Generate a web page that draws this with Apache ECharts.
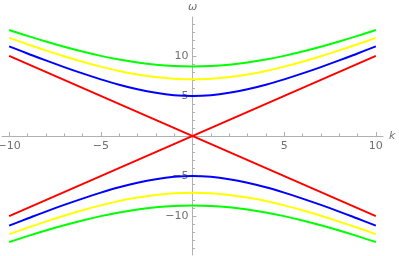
<!DOCTYPE html>
<html>
<head>
<meta charset="utf-8">
<script src="https://cdn.jsdelivr.net/npm/echarts@6/dist/echarts.min.js"></script>
<style>html,body{margin:0;padding:0;background:#fff}#c{width:399px;height:256px}</style>
</head>
<body>
<div id="c"></div>
<script>
var kValues = [-10,-9,-8,-7,-6,-5,-4,-3,-2,-1,0,1,2,3,4,5,6,7,8,9,10];
var redK = [-10, 10];
var redRising = [-10, 10];
var redFalling = [10, -10];
var blueUpper = [11.18,10.30,9.43,8.60,7.81,7.07,6.40,5.83,5.39,5.10,5.00,5.10,5.39,5.83,6.40,7.07,7.81,8.60,9.43,10.30,11.18];
var blueLower = [-11.18,-10.30,-9.43,-8.60,-7.81,-7.07,-6.40,-5.83,-5.39,-5.10,-5.00,-5.10,-5.39,-5.83,-6.40,-7.07,-7.81,-8.60,-9.43,-10.30,-11.18];
var yellowUpper = [12.25,11.45,10.68,9.95,9.27,8.66,8.12,7.68,7.35,7.14,7.07,7.14,7.35,7.68,8.12,8.66,9.27,9.95,10.68,11.45,12.25];
var yellowLower = [-12.25,-11.45,-10.68,-9.95,-9.27,-8.66,-8.12,-7.68,-7.35,-7.14,-7.07,-7.14,-7.35,-7.68,-8.12,-8.66,-9.27,-9.95,-10.68,-11.45,-12.25];
var greenUpper = [13.23,12.49,11.79,11.14,10.54,10.00,9.54,9.17,8.89,8.72,8.66,8.72,8.89,9.17,9.54,10.00,10.54,11.14,11.79,12.49,13.23];
var greenLower = [-13.23,-12.49,-11.79,-11.14,-10.54,-10.00,-9.54,-9.17,-8.89,-8.72,-8.66,-8.72,-8.89,-9.17,-9.54,-10.00,-10.54,-11.14,-11.79,-12.49,-13.23];
var xMajorTicks = [-10,-5,5,10];
var xMinorTicks = [-10,-9,-8,-7,-6,-5,-4,-3,-2,-1,1,2,3,4,5,6,7,8,9,10];
var yMajorTicks = [-10,-5,5,10];
var yMinorTicks = [-14,-13,-12,-11,-10,-9,-8,-7,-6,-5,-4,-3,-2,-1,1,2,3,4,5,6,7,8,9,10,11,12,13,14];

function pairs(xs, ys){ return xs.map(function(x,i){ return [x, ys[i]]; }); }

var W = 399, H = 256;
var G = {left:2, right:16, top:17, bottom:1};
var xOff = -(H - G.top - G.bottom) / 2;   // x axis moved from grid bottom to the middle (value 0)
var yOff = -(W - G.left - G.right) / 2;   // y axis moved from grid left to the middle (value 0)

var axisColor = '#b0b0b0';
var labelColor = '#707070';
function fmt(v){ return String(v).replace('-', '\u2212'); }

var chart = echarts.init(document.getElementById('c'), null, {renderer:'canvas'});
function lineSeries(xs, ys, color, smooth){
  return {type:'line', data:pairs(xs, ys), showSymbol:false, smooth:smooth,
    lineStyle:{color:color, width:2}, itemStyle:{color:color}, silent:true, animation:false, z:3};
}
chart.setOption({
  animation:false,
  grid:{left:G.left, right:G.right, top:G.top, bottom:G.bottom, containLabel:false, outerBoundsMode:'none'},
  xAxis:[{
    type:'value', min:-10.39, max:10.39, position:'bottom', offset:xOff,
    axisLine:{show:true, onZero:false, lineStyle:{color:axisColor, width:1}},
    axisTick:{show:true, inside:true, length:4, customValues:xMajorTicks, lineStyle:{color:axisColor}},
    axisLabel:{show:true, customValues:xMajorTicks, formatter:fmt, color:labelColor, fontSize:11, margin:5, fontFamily:'DejaVu Sans'},
    splitLine:{show:false},
    name:'k', nameLocation:'end', nameGap:6,
    nameTextStyle:{color:labelColor, fontSize:11, fontStyle:'italic', fontFamily:'DejaVu Sans'}
  },{
    type:'value', min:-10.39, max:10.39, position:'bottom', offset:xOff,
    axisLine:{show:false, onZero:false},
    axisTick:{show:true, inside:true, length:2.5, customValues:xMinorTicks, lineStyle:{color:axisColor}},
    axisLabel:{show:false}, splitLine:{show:false}
  }],
  yAxis:[{
    type:'value', min:-14.85, max:14.85, position:'left', offset:yOff,
    axisLine:{show:true, onZero:false, lineStyle:{color:axisColor, width:1}},
    axisTick:{show:true, inside:true, length:4, customValues:yMajorTicks, lineStyle:{color:axisColor}},
    axisLabel:{show:true, customValues:yMajorTicks, formatter:fmt, color:labelColor, fontSize:11, margin:4, fontFamily:'DejaVu Sans'},
    splitLine:{show:false},
    name:'\u03C9', nameLocation:'end', nameGap:4,
    nameTextStyle:{color:labelColor, fontSize:11, fontStyle:'italic', fontFamily:'DejaVu Sans'}
  },{
    type:'value', min:-14.85, max:14.85, position:'left', offset:yOff,
    axisLine:{show:false, onZero:false},
    axisTick:{show:true, inside:true, length:2.5, customValues:yMinorTicks, lineStyle:{color:axisColor}},
    axisLabel:{show:false}, splitLine:{show:false}
  }],
  series:[
    lineSeries(redK, redRising, '#ff0000', false),
    lineSeries(redK, redFalling, '#ff0000', false),
    lineSeries(kValues, blueUpper, '#0000ff', 0.4),
    lineSeries(kValues, blueLower, '#0000ff', 0.4),
    lineSeries(kValues, yellowUpper, '#ffff00', 0.4),
    lineSeries(kValues, yellowLower, '#ffff00', 0.4),
    lineSeries(kValues, greenUpper, '#00ff00', 0.4),
    lineSeries(kValues, greenLower, '#00ff00', 0.4)
  ]
});
</script>
</body>
</html>
